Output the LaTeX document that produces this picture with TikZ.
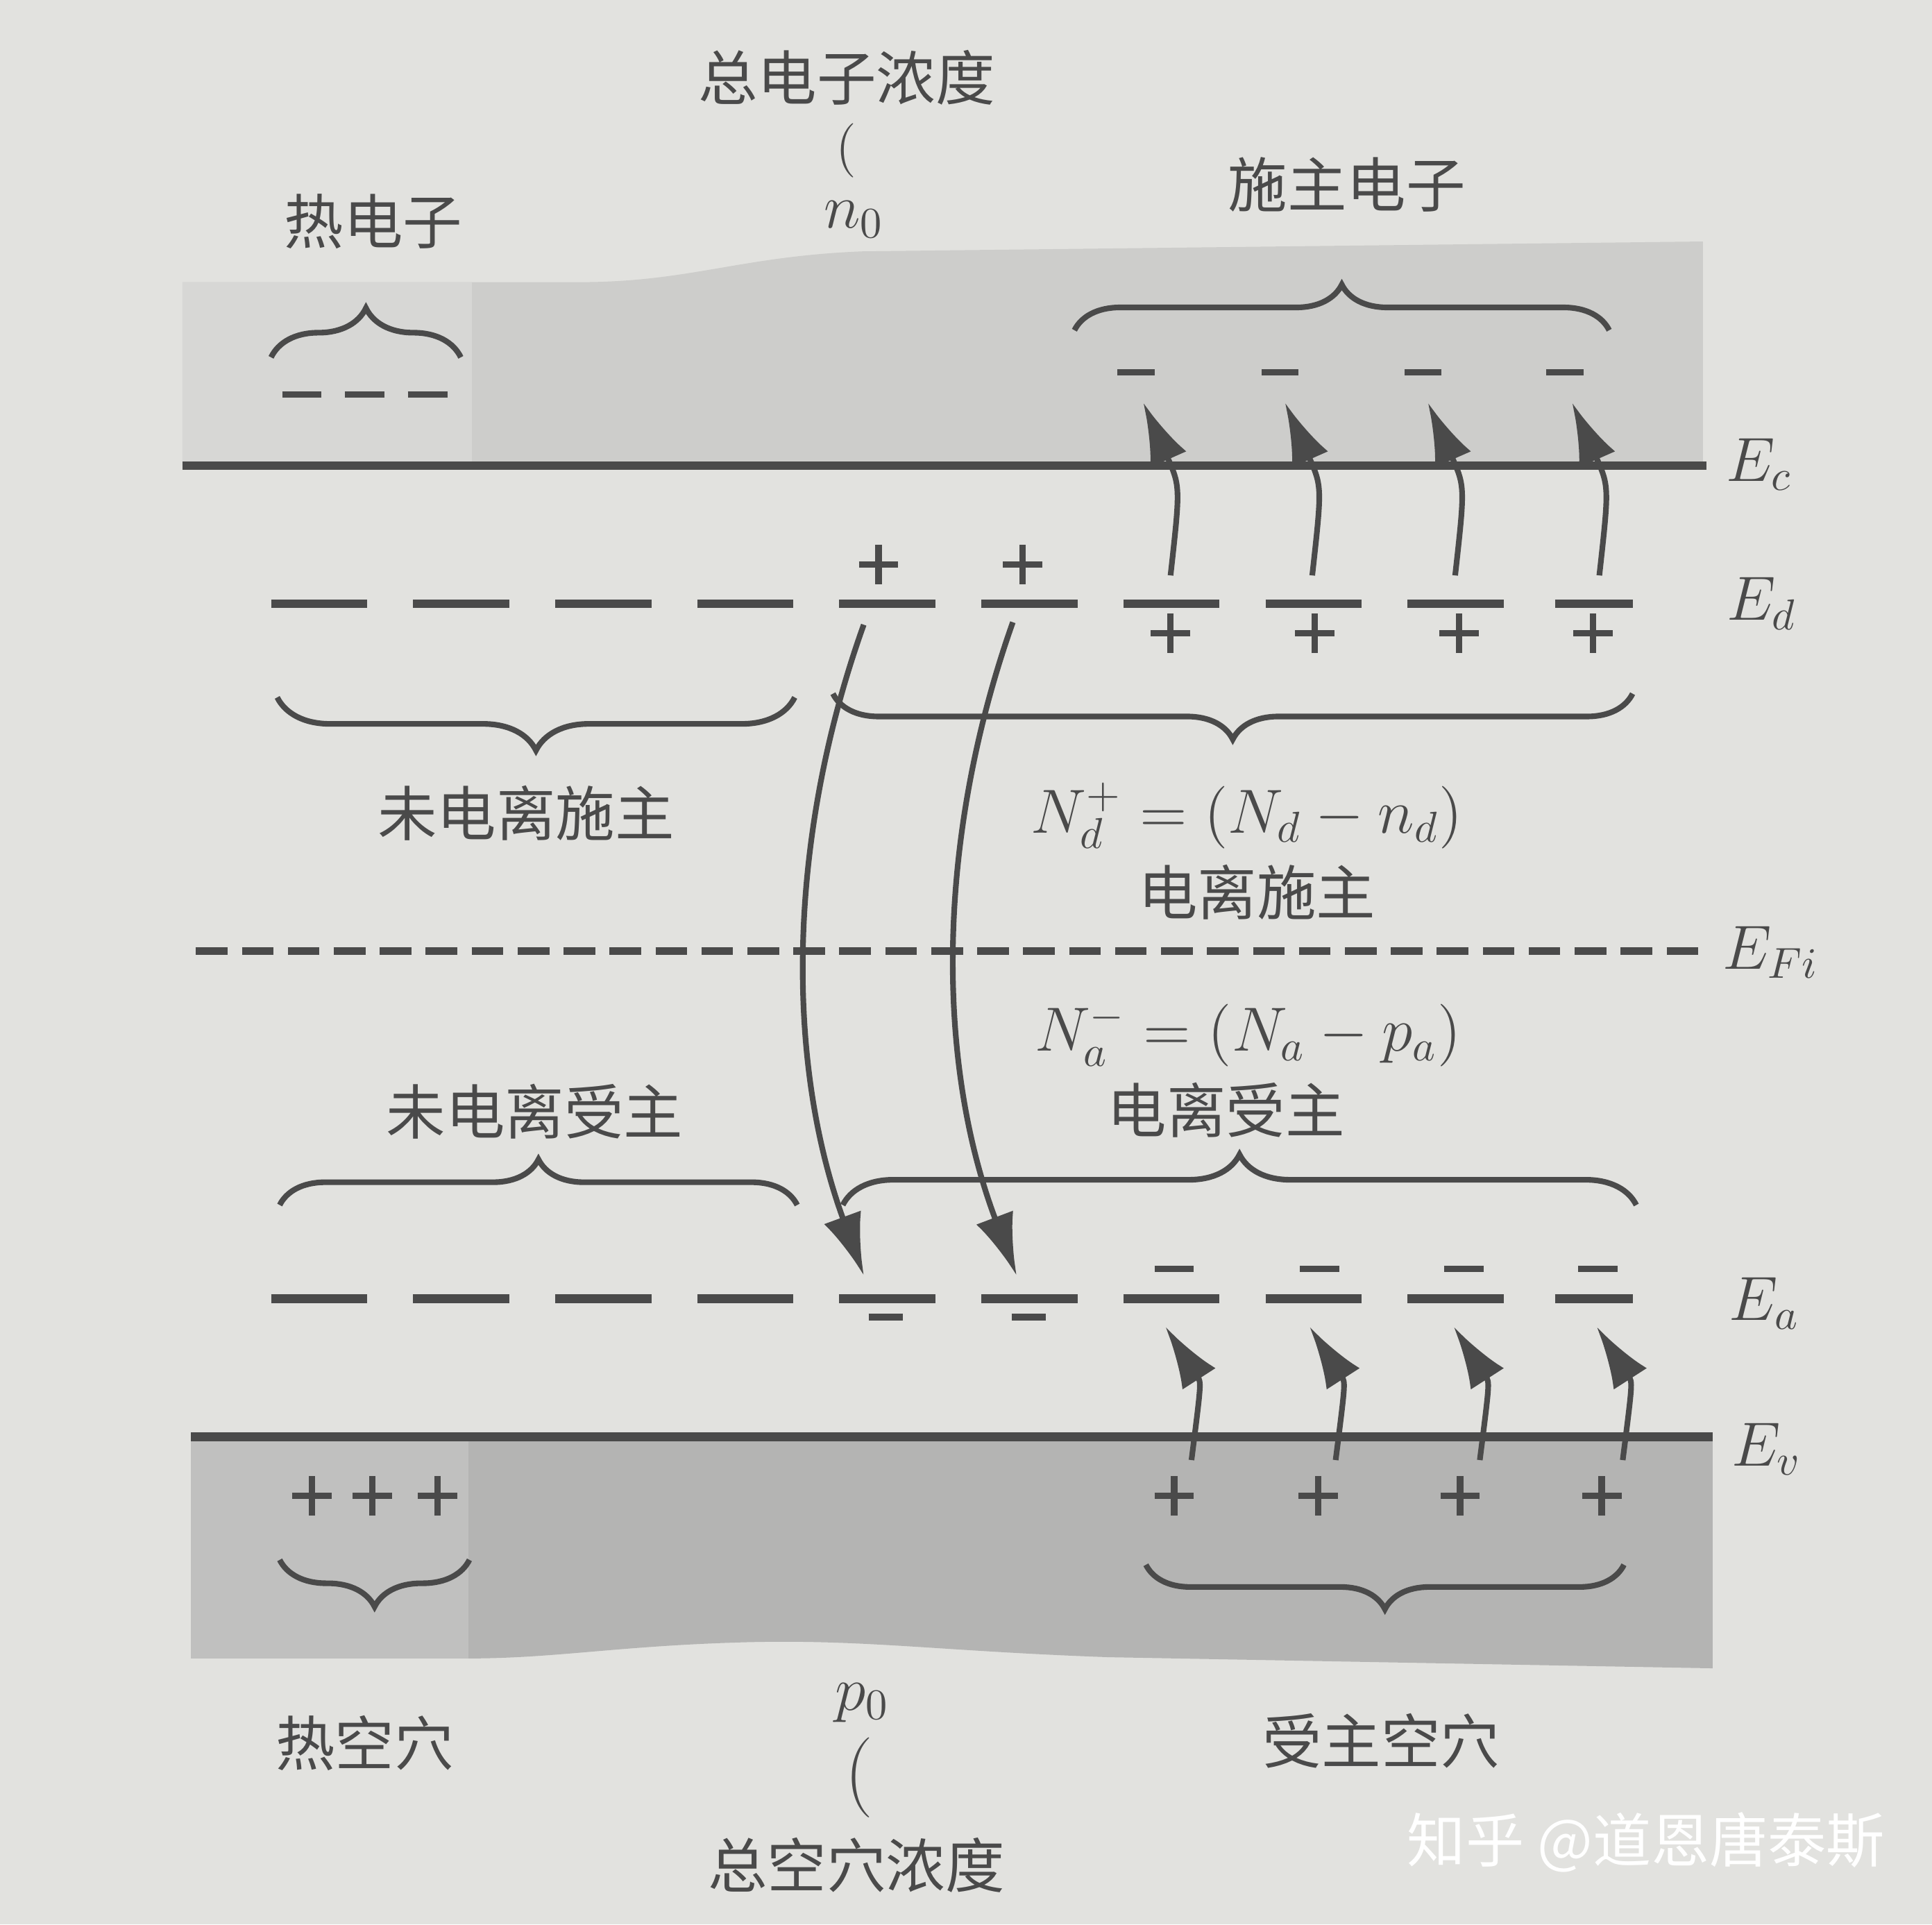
\documentclass[tikz,border=0pt]{standalone}
\usepackage{fontspec}
\newfontfamily\cjk{Noto Sans CJK SC}
\usetikzlibrary{arrows.meta}
\usetikzlibrary{decorations.pathreplacing}

\definecolor{paper}{RGB}{226,226,223}
\definecolor{ink}{RGB}{74,74,74}
\definecolor{cband}{RGB}{205,205,203}
\definecolor{cbandl}{RGB}{215,215,213}
\definecolor{vband}{RGB}{180,180,179}
\definecolor{vbandl}{RGB}{192,192,191}

\tikzset{
  lvl/.style={ink, line width=2pt},
  chg/.style={ink, line width=1.5pt},
  brc/.style={ink, line width=1.3pt, decorate, decoration={brace, amplitude=#1}},
  brc/.default=4mm,
  jump/.style={ink, line width=1.3pt, -{Latex[length=5mm,width=3.2mm]}},
  cn/.style={font=\cjk\fontsize{13.7}{16}\selectfont, text=ink, inner sep=0pt},
  mth/.style={font=\fontsize{14.5}{17}\selectfont, text=ink, inner sep=0pt},
}

\begin{document}
\begin{tikzpicture}[x=0.1mm,y=-0.1mm]
 \useasboundingbox (0,0) rectangle (1568,1562);
 \fill[paper] (0,0) rectangle (1568,1562);

 % conduction band
 \fill[cband] (148,229) -- (470,229) .. controls (560,229) and (600,208) .. (700,204)
   -- (1382,196) -- (1382,378) -- (148,378) -- cycle;
 \fill[cbandl] (148,229) rectangle (383,378);
 \draw[lvl] (148,378) -- (1385,378);

 % valence band
 \fill[vband] (155,1166) -- (1390,1166) -- (1390,1354) -- (900,1345)
   .. controls (760,1340) and (700,1330) .. (600,1333)
   .. controls (500,1336) and (450,1346) .. (380,1346) -- (155,1346) -- cycle;
 \fill[vbandl] (155,1166) rectangle (380,1346);
 \draw[lvl] (155,1166) -- (1390,1166);

 % labels on top
 \node[cn] (ntot) at (687,63) {总电子浓度};
 \node[mth, font=\fontsize{12.5}{14}\selectfont] (nbr) at (687,122) {(};
 \node[mth] (n0) at (693,178) {$n_0$};
 \node[cn] (hote) at (303,180) {热电子};
 \node[cn] (dele) at (1093,150) {施主电子};

 % thermal electrons
 \draw[brc] (220,290) -- (374,290);
 \foreach \x in {245,296,347}
   \draw[chg] (\x-16,320) -- (\x+16,320);

 % donor electrons
 \draw[brc=3.7mm] (872,268) -- (1306,268);
 \foreach \x in {922,1039,1155,1270}
   \draw[chg] (\x-15,302) -- (\x+15,302);

 % donor level
 \foreach \k in {0,...,8}
   \draw[lvl] (220+115.3*\k,490) -- ++(78,0);
 \draw[lvl] (1262,490) -- (1325,490);
 \foreach \x in {713,830}
   \draw[chg] (\x-16,458) -- (\x+16,458) (\x,442) -- (\x,474);
 \foreach \x in {950,1067,1184,1293}
   \draw[chg] (\x-16,514) -- (\x+16,514) (\x,498) -- (\x,530);

 % ionisation of donors
 \foreach \x [count=\i] in {950,1065,1181,1298} {
   \coordinate (don\i) at (\x,467);
   \coordinate (cb\i) at (\x-22,327);
   \draw[jump] (don\i) .. controls (\x+8,395) .. (cb\i);
 }

 \node[mth] (ec) at (1428,377) {$E_c$};
 \node[mth] (ed) at (1430,490) {$E_d$};

 \draw[brc=4.3mm] (645,566) -- (225,566);
 \draw[brc=3.7mm] (1325,563) -- (676,563);
 \node[cn] (und) at (427,660) {未电离施主};
 \node[mth] (ndp) at (1012,662) {$N_d^+ = (N_d - n_d)$};
 \node[cn] (iond) at (1020,724) {电离施主};

 % intrinsic Fermi level
 \draw[ink, line width=1.8pt, dash pattern=on 2.57mm off 1.16mm] (159,772) -- (1385,772);
 \node[mth] (efi) at (1437,773) {$E_{Fi}$};

 \node[mth] (nam) at (1013,840) {$N_a^- = (N_a - p_a)$};
 \node[cn] (una) at (434,902) {未电离受主};
 \node[cn] (iona) at (995,901) {电离受主};
 \draw[brc=3.7mm] (227,978) -- (647,978);
 \draw[brc=4.1mm] (684,978) -- (1328,978);

 % acceptor level
 \foreach \k in {0,...,8}
   \draw[lvl] (220+115.3*\k,1054) -- ++(78,0);
 \draw[lvl] (1262,1054) -- (1325,1054);
 \foreach \x in {953,1071,1188,1297}
   \draw[chg] (\x-16,1030) -- (\x+16,1030);
 \foreach \x in {719,835}
   \draw[chg] (\x-14,1069) -- (\x+14,1069);
 \node[mth] (ea) at (1432,1058) {$E_a$};
 \node[mth] (ev) at (1434,1176) {$E_v$};

 % electrons from donors to acceptors
 \coordinate (dd1) at (701,507);
 \coordinate (aa1) at (701,1035);
 \coordinate (dd2) at (822,505);
 \coordinate (aa2) at (825,1035);
 \draw[jump] (dd1) .. controls (638,683) and (638,863) .. (aa1);
 \draw[jump] (dd2) .. controls (759,683) and (760,863) .. (aa2);

 % holes into the valence band
 \foreach \x [count=\i] in {967,1084,1201,1317} {
   \coordinate (vb\i) at (\x,1185);
   \coordinate (acc\i) at (\x-21,1077);
   \draw[jump] (vb\i) .. controls (\x+8,1122) .. (acc\i);
 }
 \foreach \x in {953,1070,1185,1300}
   \draw[chg] (\x-16,1214) -- (\x+16,1214) (\x,1198) -- (\x,1230);
 \foreach \x in {253,302,355}
   \draw[chg] (\x-16,1214) -- (\x+16,1214) (\x,1198) -- (\x,1230);
 \draw[brc=3.8mm] (381,1266) -- (227,1266);
 \draw[brc=3.6mm] (1318,1270) -- (930,1270);

 % labels at the bottom
 \node[cn] (hoth) at (296,1415) {热空穴};
 \node[mth] (p0) at (700,1382) {$p_0$};
 \node[mth, font=\fontsize{18.5}{20}\selectfont] (pbr) at (697,1443) {(};
 \node[cn] (ptot) at (695,1514) {总空穴浓度};
 \node[cn] (acch) at (1121,1413) {受主空穴};
 \node[font=\cjk\fontsize{13.5}{16}\selectfont, text=white, inner sep=0pt] (wm) at (1336,1495) {知乎 @道恩唐泰斯};
\end{tikzpicture}
\end{document}
